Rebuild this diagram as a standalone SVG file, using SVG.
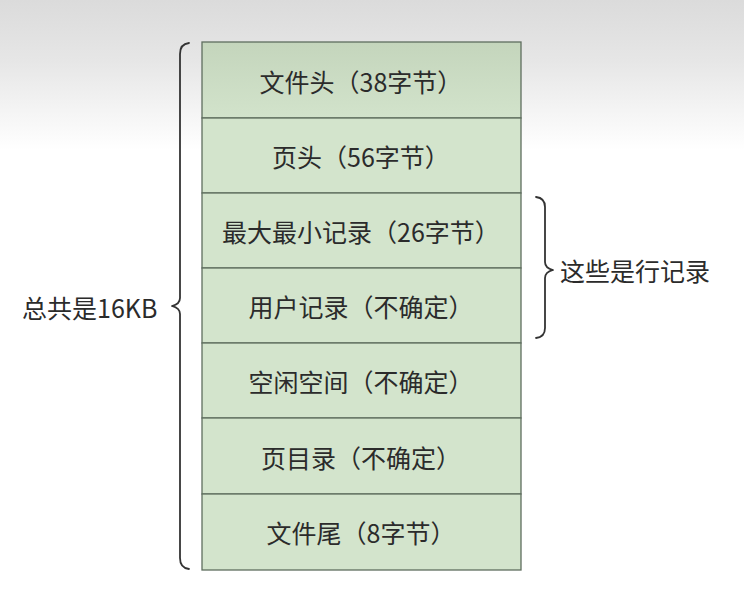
<svg xmlns="http://www.w3.org/2000/svg" width="744" height="608" viewBox="0 0 744 608">
<defs>
<linearGradient id="bg" x1="0" y1="0" x2="0" y2="1">
<stop offset="0" stop-color="#dbdbdb"/>
<stop offset="0.4" stop-color="#e6e6e6"/>
<stop offset="1" stop-color="#ffffff"/>
</linearGradient>
<linearGradient id="cellTop" x1="0" y1="0" x2="0" y2="1">
<stop offset="0" stop-color="#c4d5bc"/>
<stop offset="1" stop-color="#d2e3cb"/>
</linearGradient>
<style>
.cell{fill:#d3e4cc;stroke:#5f6e5f;stroke-width:1.3}
.t{font-family:"Noto Sans CJK SC","Noto Sans",sans-serif;font-size:25px;fill:#2b2b2b;text-anchor:middle;dominant-baseline:central}
.lbl{font-family:"Noto Sans CJK SC","Noto Sans",sans-serif;font-size:25px;fill:#2b2b2b;dominant-baseline:central}
.brace{fill:none;stroke:#333;stroke-width:1.8;stroke-linejoin:round;stroke-linecap:round}
</style>
</defs>
<rect x="0" y="0" width="744" height="150" fill="url(#bg)"/>
<rect x="0" y="150" width="744" height="458" fill="#ffffff"/>
<g id="row1"><rect class="cell" x="202" y="42" width="319" height="76" style="fill:url(#cellTop)"/><text class="t" x="361" y="81">文件头（38字节）</text></g>
<g id="row2"><rect class="cell" x="202" y="118" width="319" height="75"/><text class="t" x="361" y="156">页头（56字节）</text></g>
<g id="row3"><rect class="cell" x="202" y="193" width="319" height="75"/><text class="t" x="361" y="231">最大最小记录（26字节）</text></g>
<g id="row4"><rect class="cell" x="202" y="268" width="319" height="75"/><text class="t" x="361" y="306">用户记录（不确定）</text></g>
<g id="row5"><rect class="cell" x="202" y="343" width="319" height="75"/><text class="t" x="361" y="381">空闲空间（不确定）</text></g>
<g id="row6"><rect class="cell" x="202" y="418" width="319" height="76"/><text class="t" x="361" y="457">页目录（不确定）</text></g>
<g id="row7"><rect class="cell" x="202" y="494" width="319" height="76"/><text class="t" x="361" y="532">文件尾（8字节）</text></g>
<g id="braces">
<path class="brace" d="M189,43 Q180,44 180,54 L180,298 Q180,304 172,306 Q180,308 180,314 L180,558 Q180,568 189,569"/>
<path class="brace" d="M536,197 Q545,198 545,207 L545,262 Q545,268 553,270 Q545,272 545,278 L545,328 Q545,337 536,338"/>
</g>
<g id="label-total"><text class="lbl" x="22" y="307">总共是16KB</text></g>
<g id="label-rows"><text class="lbl" x="560" y="270">这些是行记录</text></g>
</svg>
